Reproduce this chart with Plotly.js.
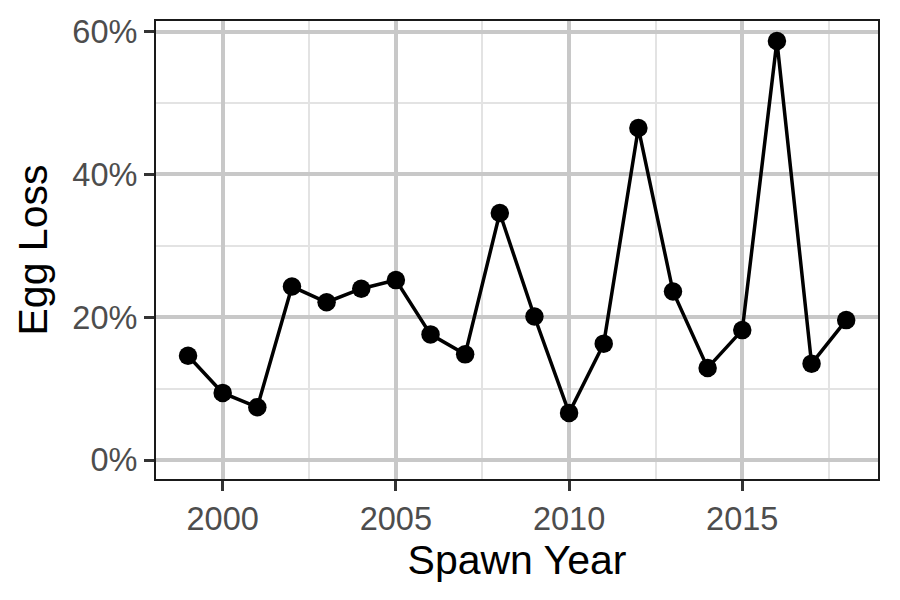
<!DOCTYPE html>
<html><head><meta charset="utf-8">
<script src="https://cdn.plot.ly/plotly-3.0.1.min.js"></script>
<style>body{margin:0}#p{width:900px;height:600px}</style>
</head><body><div id="p"></div>
<script>
const years = [1999,2000,2001,2002,2003,2004,2005,2006,2007,2008,2009,2010,2011,2012,2013,2014,2015,2016,2017,2018];
const eggLoss = [0.146,0.094,0.074,0.243,0.221,0.240,0.252,0.176,0.148,0.346,0.201,0.066,0.163,0.465,0.236,0.129,0.182,0.587,0.135,0.196];
const yTicks = [0,0.2,0.4,0.6];
const yTickLabels = ['0%','20%','40%','60%'];
const xTicks = [2000,2005,2010,2015];

const trace = {x: years, y: eggLoss, type:'scatter', mode:'lines+markers', cliponaxis:false,
  line:{color:'#000', width:3.5}, marker:{color:'#000', size:18.5}};
const layout = {
  width:900, height:600, showlegend:false,
  paper_bgcolor:'#fff', plot_bgcolor:'#fff',
  margin:{l:156, r:22, t:21, b:121},
  font:{family:'Liberation Sans, Arial, sans-serif'},
  xaxis:{range:[1998.075,2018.918], tickvals:xTicks, ticktext:xTicks.map(String),
    showgrid:true, gridcolor:'#c8c8c8', gridwidth:4,
    minor:{tickvals:[1997.5,2002.5,2007.5,2012.5,2017.5], showgrid:true, gridcolor:'#e3e3e3', gridwidth:2, ticks:''},
    ticks:'outside', ticklen:10, tickwidth:3, tickcolor:'#333',
    tickfont:{size:32.5, color:'#4d4d4d'}, zeroline:false,
    showline:true, mirror:true, linecolor:'#1a1a1a', linewidth:2.2,
    title:{text:'Spawn Year', font:{size:41, color:'#000'}, standoff:7}},
  yaxis:{range:[-0.0266,0.615], tickvals:yTicks, ticktext:yTickLabels,
    showgrid:true, gridcolor:'#c8c8c8', gridwidth:4,
    minor:{tickvals:[0.1,0.3,0.5], showgrid:true, gridcolor:'#e3e3e3', gridwidth:2, ticks:''},
    ticks:'outside', ticklen:10, tickwidth:3, tickcolor:'#333',
    tickfont:{size:32.5, color:'#4d4d4d'}, zeroline:false,
    showline:true, mirror:true, linecolor:'#1a1a1a', linewidth:2.2,
    title:{text:'Egg Loss', font:{size:41, color:'#000'}, standoff:12}}
};
Plotly.newPlot('p',[trace],layout,{displayModeBar:false});
</script></body></html>
